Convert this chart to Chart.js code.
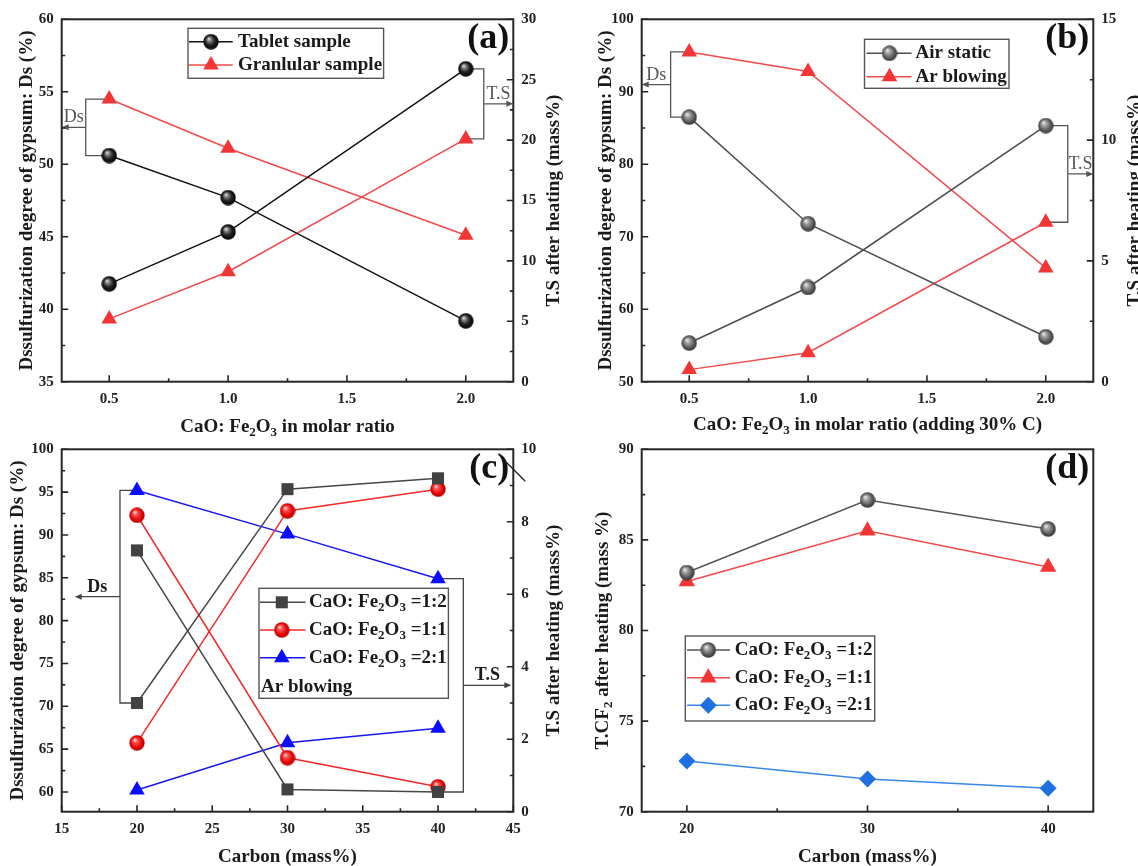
<!DOCTYPE html>
<html>
<head>
<meta charset="utf-8">
<script src="https://cdn.jsdelivr.net/npm/chart.js@4.4.1/dist/chart.umd.min.js"></script>
<style>
  html, body { margin: 0; padding: 0; background: #fff; overflow: hidden; }
  #wrap { position: relative; width: 1138px; height: 866px; }
  #wrap canvas { position: absolute; left: 0; top: 0; }
</style>
</head>
<body>
<div id="wrap">
  <canvas id="pa" width="1138" height="866"></canvas>
  <canvas id="pb" width="1138" height="866"></canvas>
  <canvas id="pc" width="1138" height="866"></canvas>
  <canvas id="pd" width="1138" height="866"></canvas>
</div>
<script>
// ---- data ----
const ratioX = [0.5, 1.0, 2.0];
const tabletDs = [50.6, 47.7, 39.2];
const tabletTs = [8.1, 12.4, 25.9];
const granDs = [54.5, 51.1, 45.1];
const granTs = [5.2, 9.1, 20.1];

const airStaticDs = [86.5, 71.8, 56.2];
const airStaticTs = [1.6, 3.9, 10.6];
const arBlowDs = [95.5, 92.8, 65.7];
const arBlowTs = [0.5, 1.2, 6.6];

const carbonX = [20, 30, 40];
const c12Ds = [88.2, 60.3, 60.0];
const c12Ts = [3.0, 8.9, 9.2];
const c11Ds = [92.3, 64.0, 60.6];
const c11Ts = [1.9, 8.3, 8.9];
const c21Ds = [95.2, 90.1, 84.9];
const c21Ts = [0.6, 1.9, 2.3];

const d12Tcf = [83.2, 87.2, 85.6];
const d11Tcf = [82.7, 85.5, 83.5];
const d21Tcf = [72.8, 71.8, 71.3];

// tick labels
const ticksRatio = [0.5, 1.0, 1.5, 2.0];
const ticksDsA = [35, 40, 45, 50, 55, 60];
const ticksTsA = [0, 5, 10, 15, 20, 25, 30];
const ticksDsB = [50, 60, 70, 80, 90, 100];
const ticksTsB = [0, 5, 10, 15];
const ticksCarbonC = [15, 20, 25, 30, 35, 40, 45];
const ticksDsC = [60, 65, 70, 75, 80, 85, 90, 95, 100];
const ticksTsC = [0, 2, 4, 6, 8, 10];
const ticksCarbonD = [20, 30, 40];
const ticksTcfD = [70, 75, 80, 85, 90];

// ---- look ----
const SERIF = '"Liberation Serif", "Times New Roman", serif';
const W = 1138, H = 866;
const TITLE = 19;
Chart.defaults.font.family = SERIF;

function makeBall(stops, d) {
  const c = document.createElement('canvas');
  c.width = d; c.height = d;
  const g = c.getContext('2d');
  const r = d / 2;
  const grad = g.createRadialGradient(r * 0.7, r * 0.6, 0, r, r, r);
  stops.forEach(s => grad.addColorStop(s[0], s[1]));
  g.fillStyle = grad;
  g.beginPath();
  g.arc(r, r, r - 0.3, 0, Math.PI * 2);
  g.fill();
  return c;
}
const ballBlack = makeBall([[0, '#f2f2f2'], [0.25, '#858585'], [0.6, '#222'], [1, '#000']], 16);
const ballGray = makeBall([[0, '#fafafa'], [0.3, '#a5a5a5'], [0.75, '#545454'], [1, '#333']], 16);
const ballRed = makeBall([[0, '#fff2f2'], [0.3, '#ff4d4d'], [0.75, '#e00000'], [1, '#b00000']], 16);

const stTablet = { line: '#111111', point: ballBlack, r: 8, fill: '#111' };
const stGran = { line: '#f24a4a', point: 'triangle', r: 9, fill: '#f23636' };
const stAir = { line: '#4d4d4d', point: ballGray, r: 8, fill: '#555' };
const stAr = { line: '#f24a4a', point: 'triangle', r: 9, fill: '#f23636' };
const stC12 = { line: '#474747', point: 'rect', r: 8.5, fill: '#424242' };
const stC11 = { line: '#f22a2a', point: ballRed, r: 8, fill: '#e00' };
const stC21 = { line: '#1717f0', point: 'triangle', r: 9, fill: '#0c0cff' };
const stD12 = { line: '#555555', point: ballGray, r: 8, fill: '#555' };
const stD11 = { line: '#f24a4a', point: 'triangle', r: 9.5, fill: '#f23636' };
const stD21 = { line: '#3a86e8', point: 'rectRot', r: 8.5, fill: '#1f6fe0' };

function series(xs, ys, axis, st) {
  return {
    data: xs.map((x, i) => ({ x: x, y: ys[i] })),
    yAxisID: axis,
    borderColor: st.line,
    borderWidth: 1.5,
    pointStyle: st.point,
    pointRadius: st.r,
    pointHoverRadius: st.r,
    pointBackgroundColor: st.fill,
    pointBorderColor: st.fill,
    pointBorderWidth: 0,
    tension: 0,
    fill: false,
    clip: false,
    _st: st
  };
}

function ratioText(r) {
  return [['CaO: Fe'], ['2', 1], ['O'], ['3', 1], [' =' + r]];
}

// ---- panels ----
const panels = {
  pa: {
    geo: { L: 61.7, T: 19.3, R: 513.3, B: 381.7, leftX: 26.8, rightX: 553.6, bottomY: 427 },
    x: { min: 0.3, max: 2.2, ticks: ticksRatio, fmt: v => v.toFixed(1) },
    y: { min: 35, max: 60, ticks: ticksDsA },
    y2: { min: 0, max: 30, ticks: ticksTsA },
    datasets: [
      series(ratioX, tabletDs, 'y', stTablet),
      series(ratioX, tabletTs, 'y2', stTablet),
      series(ratioX, granDs, 'y', stGran),
      series(ratioX, granTs, 'y2', stGran)
    ],
    leftTitle: [['Dssulfurization degree of gypsum: Ds (%)']],
    rightTitle: [['T.S after heating (mass%)']],
    bottomTitle: [['CaO: Fe'], ['2', 1], ['O'], ['3', 1], [' in molar ratio']],
    label: '(a)',
    brackets: [
      { side: 'left', from: [2, 0], to: [0, 0], gap: 23.5, stop: 0, text: 'Ds', bold: false, color: '#555' },
      { side: 'right', from: [1, 2], to: [3, 2], gap: 18, stop: 0, text: 'T.S', bold: false, color: '#555' }
    ],
    legend: { x: 126.3, y: 9, w: 195.6, h: 50, s0: 1, s1: 44.7, m: 23, tx: 50,
      rows: [{ ds: 0, dy: 13.4, parts: [['Tablet sample']] }, { ds: 2, dy: 36.7, parts: [['Granlular sample']] }] }
  },
  pb: {
    geo: { L: 641.7, T: 19.3, R: 1093.3, B: 381.7, leftX: 605.6, rightX: 1135, bottomY: 425 },
    x: { min: 0.3, max: 2.2, ticks: ticksRatio, fmt: v => v.toFixed(1) },
    y: { min: 50, max: 100, ticks: ticksDsB },
    y2: { min: 0, max: 15, ticks: ticksTsB },
    datasets: [
      series(ratioX, airStaticDs, 'y', stAir),
      series(ratioX, airStaticTs, 'y2', stAir),
      series(ratioX, arBlowDs, 'y', stAr),
      series(ratioX, arBlowTs, 'y2', stAr)
    ],
    leftTitle: [['Dssulfurization degree of gypsum: Ds (%)']],
    rightTitle: [['T.S after heating (mass%)']],
    bottomTitle: [['CaO: Fe'], ['2', 1], ['O'], ['3', 1], [' in molar ratio (adding 30% C)']],
    label: '(b)',
    brackets: [
      { side: 'left', from: [2, 0], to: [0, 0], gap: 18.6, stop: 0, text: 'Ds', bold: false, color: '#555' },
      { side: 'right', from: [1, 2], to: [3, 2], gap: 22, stop: 0, text: 'T.S', bold: false, color: '#555' }
    ],
    legend: { x: 222.8, y: 20, w: 144.5, h: 49, s0: 2, s1: 47, m: 25, tx: 51,
      rows: [{ ds: 0, dy: 14, parts: [['Air static']] }, { ds: 2, dy: 37.4, parts: [['Ar blowing']] }] }
  },
  pc: {
    geo: { L: 61.7, T: 449.3, R: 513.3, B: 811.7, leftX: 18, rightX: 553.6, bottomY: 857 },
    x: { min: 15, max: 45, ticks: ticksCarbonC, fmt: v => String(v) },
    y: { min: 57.7, max: 100, ticks: ticksDsC },
    y2: { min: 0, max: 10, ticks: ticksTsC },
    datasets: [
      series(carbonX, c12Ds, 'y', stC12),
      series(carbonX, c12Ts, 'y2', stC12),
      series(carbonX, c11Ds, 'y', stC11),
      series(carbonX, c11Ts, 'y2', stC11),
      series(carbonX, c21Ds, 'y', stC21),
      series(carbonX, c21Ts, 'y2', stC21)
    ],
    leftTitle: [['Dssulfurization degree of gypsum: Ds (%)']],
    rightTitle: [['T.S after heating (mass%)']],
    bottomTitle: [['Carbon (mass%)']],
    label: '(c)',
    slash: true,
    brackets: [
      { side: 'left', from: [1, 0], to: [4, 0], gap: 17, stop: 13, text: 'Ds', bold: true, color: '#444' },
      { side: 'right', from: [4, 2], to: [0, 2], gap: 25.3, stop: 2, text: 'T.S', bold: true, color: '#444' }
    ],
    legend: { x: 197.3, y: 139, w: 189.4, h: 110, s0: 1, s1: 46.5, m: 22.8, tx: 50,
      rows: [{ ds: 0, dy: 14, parts: ratioText('1:2') }, { ds: 2, dy: 41.7, parts: ratioText('1:1') },
             { ds: 4, dy: 69.4, parts: ratioText('2:1') }],
      note: { dx: 2, dy: 98.4, text: 'Ar blowing' } }
  },
  pd: {
    geo: { L: 641.7, T: 449.3, R: 1093.3, B: 811.7, leftX: 602.7, rightX: null, bottomY: 857 },
    x: { min: 17.5, max: 42.5, ticks: ticksCarbonD, fmt: v => String(v) },
    y: { min: 70, max: 90, ticks: ticksTcfD },
    y2: null,
    datasets: [
      series(carbonX, d12Tcf, 'y', stD12),
      series(carbonX, d11Tcf, 'y', stD11),
      series(carbonX, d21Tcf, 'y', stD21)
    ],
    leftTitle: [['T.CF'], ['2', 1], [' after heating (mass %)']],
    rightTitle: null,
    bottomTitle: [['Carbon (mass%)']],
    label: '(d)',
    brackets: [],
    legend: { x: 43.6, y: 186.7, w: 189.4, h: 85, s0: 1.7, s1: 44.7, m: 23, tx: 49.4,
      rows: [{ ds: 0, dy: 14, parts: ratioText('1:2') }, { ds: 1, dy: 41.7, parts: ratioText('1:1') },
             { ds: 2, dy: 69.3, parts: ratioText('2:1') }] }
  }
};

// ---- drawing helpers ----
function drawRich(ctx, parts, x, y, size, align, weight) {
  const wt = weight || 'bold';
  const big = wt + ' ' + size + 'px ' + SERIF;
  const small = wt + ' ' + Math.round(size * 0.66) + 'px ' + SERIF;
  let w = 0;
  parts.forEach(p => { ctx.font = p[1] ? small : big; w += ctx.measureText(p[0]).width; });
  let cx = align === 'center' ? x - w / 2 : x;
  ctx.textAlign = 'left';
  ctx.textBaseline = 'middle';
  parts.forEach(p => {
    ctx.font = p[1] ? small : big;
    ctx.fillText(p[0], cx, p[1] ? y + size * 0.3 : y);
    cx += ctx.measureText(p[0]).width;
  });
}

function drawMarker(ctx, st, x, y) {
  if (Chart.helpers && Chart.helpers.drawPoint) {
    ctx.fillStyle = st.fill;
    Chart.helpers.drawPoint(ctx, { pointStyle: st.point, radius: st.r, rotation: 0, borderWidth: 0 }, x, y);
  } else if (typeof st.point === 'object') {
    ctx.drawImage(st.point, x - st.point.width / 2, y - st.point.height / 2);
  }
}

function drawBracket(chart, b) {
  const ctx = chart.ctx, a = chart.chartArea;
  const p1 = chart.getDatasetMeta(b.from[0]).data[b.from[1]];
  const p2 = chart.getDatasetMeta(b.to[0]).data[b.to[1]];
  const dir = b.side === 'left' ? -1 : 1;
  const bx = p1.x + dir * b.gap;
  const midY = (p1.y + p2.y) / 2;
  const edge = b.side === 'left' ? a.left + b.stop : a.right - b.stop;
  ctx.save();
  ctx.strokeStyle = b.color;
  ctx.lineWidth = 1.3;
  ctx.beginPath();
  ctx.moveTo(p1.x, p1.y); ctx.lineTo(bx, p1.y); ctx.lineTo(bx, p2.y); ctx.lineTo(p2.x, p2.y);
  ctx.moveTo(bx, midY); ctx.lineTo(edge - dir * 6, midY);
  ctx.stroke();
  ctx.fillStyle = b.color;
  ctx.beginPath();
  ctx.moveTo(edge, midY);
  ctx.lineTo(edge - dir * 7, midY - 3);
  ctx.lineTo(edge - dir * 7, midY + 3);
  ctx.closePath();
  ctx.fill();
  ctx.fillStyle = b.bold ? '#1a1a1a' : '#555';
  ctx.font = (b.bold ? 'bold ' : '') + '18px ' + SERIF;
  ctx.textAlign = 'center';
  ctx.textBaseline = 'alphabetic';
  ctx.fillText(b.text, (bx + edge) / 2, midY - 5);
  ctx.restore();
}

function drawAxisTicks(ctx, scale, a) {
  const vals = scale.ticks.map(t => t.value);
  const mark = (v, len) => {
    const p = scale.getPixelForValue(v);
    if (scale.isHorizontal()) { ctx.moveTo(p, a.bottom); ctx.lineTo(p, a.bottom - len); }
    else if (scale.position === 'left') { ctx.moveTo(a.left, p); ctx.lineTo(a.left + len, p); }
    else { ctx.moveTo(a.right, p); ctx.lineTo(a.right - len, p); }
  };
  ctx.beginPath();
  vals.forEach(v => mark(v, 6.5));
  for (let i = 0; i < vals.length - 1; i++) mark((vals[i] + vals[i + 1]) / 2, 3.5);
  ctx.stroke();
}

const decorPlugin = {
  id: 'decor',
  beforeDatasetsDraw(chart) {
    const p = panels[chart.canvas.id];
    p.brackets.forEach(b => drawBracket(chart, b));
  },
  afterDraw(chart) {
    const p = panels[chart.canvas.id];
    const ctx = chart.ctx, a = chart.chartArea, g = p.geo;
    ctx.save();
    // frame and inward ticks
    ctx.strokeStyle = '#262626';
    ctx.lineWidth = 2;
    ctx.strokeRect(a.left, a.top, a.right - a.left, a.bottom - a.top);
    ctx.lineWidth = 1.6;
    Object.values(chart.scales).forEach(s => drawAxisTicks(ctx, s, a));

    // axis titles
    ctx.fillStyle = '#1a1a1a';
    const midY = (a.top + a.bottom) / 2;
    ctx.save();
    ctx.translate(g.leftX, midY); ctx.rotate(-Math.PI / 2);
    drawRich(ctx, p.leftTitle, 0, 0, TITLE, 'center');
    ctx.restore();
    if (p.rightTitle) {
      ctx.save();
      ctx.translate(g.rightX, midY); ctx.rotate(-Math.PI / 2);
      drawRich(ctx, p.rightTitle, 0, 0, TITLE, 'center');
      ctx.restore();
    }
    drawRich(ctx, p.bottomTitle, (a.left + a.right) / 2, g.bottomY, TITLE, 'center');

    // legend box
    const lg = p.legend;
    const lx = a.left + lg.x, ly = a.top + lg.y;
    ctx.strokeStyle = '#555';
    ctx.lineWidth = 1.4;
    ctx.strokeRect(lx, ly, lg.w, lg.h);
    lg.rows.forEach(r => {
      const st = chart.data.datasets[r.ds]._st;
      const yy = ly + r.dy;
      ctx.strokeStyle = st.line;
      ctx.lineWidth = 1.5;
      ctx.beginPath(); ctx.moveTo(lx + lg.s0, yy); ctx.lineTo(lx + lg.s1, yy); ctx.stroke();
      drawMarker(ctx, st, lx + lg.m, yy);
      ctx.fillStyle = '#1a1a1a';
      drawRich(ctx, r.parts, lx + lg.tx, yy, 19, 'left');
    });
    if (lg.note) {
      ctx.fillStyle = '#1a1a1a';
      drawRich(ctx, [[lg.note.text]], lx + lg.note.dx, ly + lg.note.dy, 19, 'left');
    }

    // panel label
    ctx.fillStyle = '#111';
    ctx.font = 'bold 36px ' + SERIF;
    ctx.textAlign = 'right';
    ctx.textBaseline = 'middle';
    ctx.fillText(p.label, a.right - 4, a.top + 19);
    if (p.slash) {
      ctx.strokeStyle = '#222';
      ctx.lineWidth = 1.3;
      ctx.beginPath(); ctx.moveTo(a.right - 8, a.top + 12); ctx.lineTo(a.right + 12, a.top + 32); ctx.stroke();
    }
    ctx.restore();
  }
};

function axisTicks(vals, fmt) {
  return {
    afterBuildTicks: s => { s.ticks = vals.map(v => ({ value: v })); },
    ticks: { padding: 8, color: '#222', autoSkip: false, maxRotation: 0,
      font: { size: 15, weight: 'bold' }, callback: v => (fmt ? fmt(v) : String(v)) },
    grid: { display: false, drawTicks: false },
    border: { display: false }
  };
}

function build(id) {
  const p = panels[id], g = p.geo;
  const xAxisH = 40, rightW = 40;
  const scales = {
    x: Object.assign({ type: 'linear', position: 'bottom', min: p.x.min, max: p.x.max,
      afterFit: s => { s.height = xAxisH; } }, axisTicks(p.x.ticks, p.x.fmt)),
    y: Object.assign({ type: 'linear', position: 'left', min: p.y.min, max: p.y.max,
      afterFit: s => { s.width = g.L; } }, axisTicks(p.y.ticks))
  };
  if (p.y2) {
    scales.y2 = Object.assign({ type: 'linear', position: 'right', min: p.y2.min, max: p.y2.max,
      afterFit: s => { s.width = rightW; } }, axisTicks(p.y2.ticks));
  }
  return new Chart(document.getElementById(id), {
    type: 'line',
    data: { datasets: p.datasets },
    options: {
      responsive: false,
      animation: false,
      events: [],
      layout: { padding: { left: 0, top: g.T, right: W - g.R - (p.y2 ? rightW : 0), bottom: H - g.B - xAxisH } },
      plugins: { legend: { display: false }, tooltip: { enabled: false } },
      scales: scales
    },
    plugins: [decorPlugin]
  });
}

['pa', 'pb', 'pc', 'pd'].forEach(build);
</script>
</body>
</html>
